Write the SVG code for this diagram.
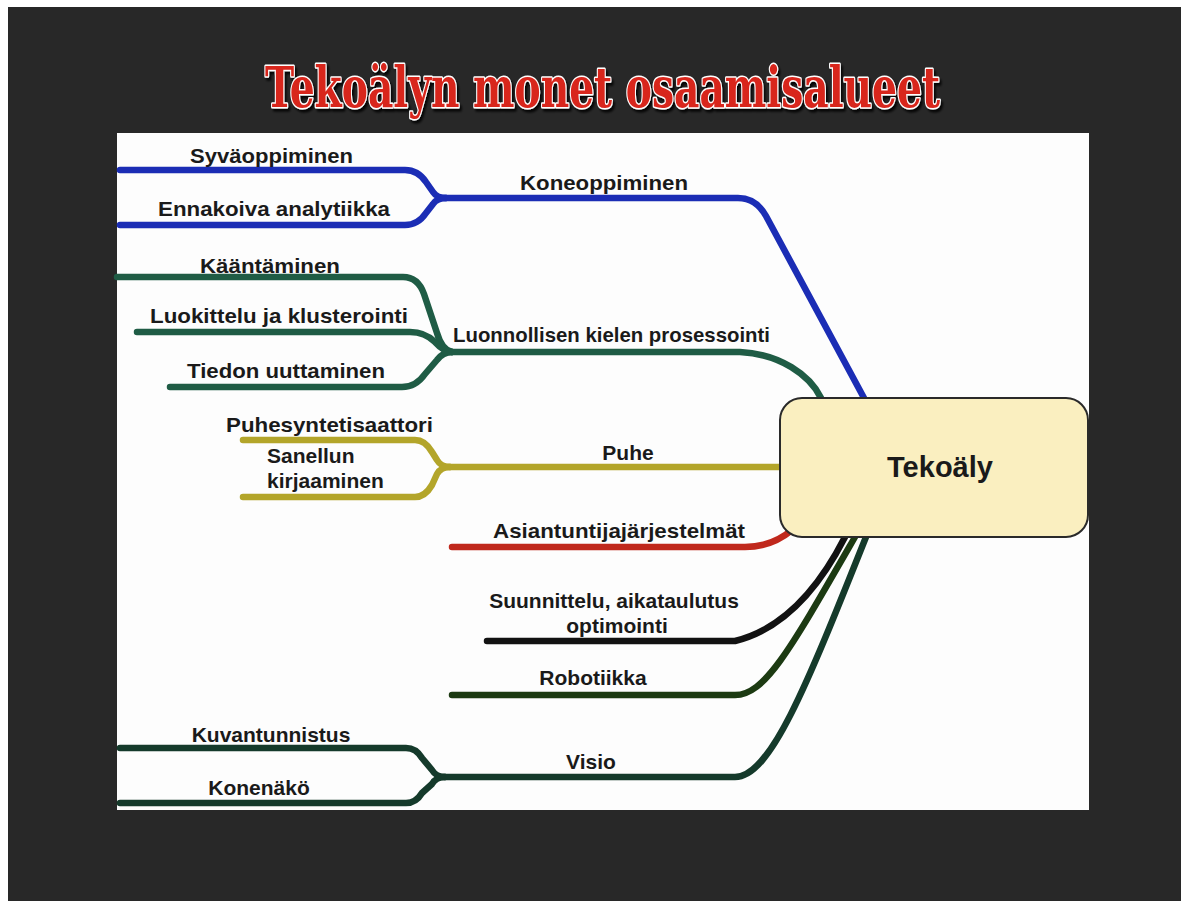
<svg xmlns="http://www.w3.org/2000/svg" width="1186" height="901" viewBox="0 0 1186 901">
<style>
.ln{fill:none;stroke-width:6.5;stroke-linecap:round;stroke-linejoin:round}
.blue{stroke:#1b2db5}
.nlp{stroke:#1f5c45}
.yel{stroke:#b3a52a}
.red{stroke:#c0281c}
.blk{stroke:#121212}
.rob{stroke:#1c3a12}
.vis{stroke:#153a2b}
.lb{font-family:"Liberation Sans",Arial,sans-serif;font-weight:bold;font-size:21px;fill:#1a1a1a}
.ttl{font-family:"DejaVu Serif","Liberation Serif",serif;font-weight:bold;font-size:56px}
</style>
<defs>
<filter id="sh" filterUnits="userSpaceOnUse" x="240" y="40" width="720" height="95">
<feDropShadow dx="2" dy="3" stdDeviation="1.2" flood-color="#000000" flood-opacity="0.85"/>
</filter>
</defs>
<rect width="1186" height="901" fill="#ffffff"/>
<rect x="8" y="7" width="1173" height="894" fill="#282828"/>
<rect x="117" y="133" width="972" height="677" fill="#fdfdfd"/>
<g id="title" filter="url(#sh)">
<text class="ttl" x="265" y="107" textLength="675" lengthAdjust="spacingAndGlyphs" fill="#d8261d" stroke="#ffffff" stroke-width="3" paint-order="stroke" stroke-linejoin="round">Tekoälyn monet osaamisalueet</text>
</g>
<g id="connectors">
<path class="ln blue" d="M120 170 H405 Q418 170 426 182 L433 192 Q437 198 446 198"/>
<path class="ln blue" d="M120 225 H405 Q418 225 426 213 L433 204 Q437 198 446 198"/>
<path class="ln blue" d="M440 198 H738 Q756 198 766 216 L864 398"/>
<path class="ln nlp" d="M117 277 H403 Q418 277 424 294 L437 333 Q442 350 452 352"/>
<path class="ln nlp" d="M137 332 H410 Q425 332 435 342 Q443 351 452 352"/>
<path class="ln nlp" d="M170 387 H402 Q416 387 425 374 L437 360 Q443 352 452 352"/>
<path class="ln nlp" d="M445 352 H740 C780 354 810 375 821 398"/>
<path class="ln yel" d="M243 440 H415 Q425 440 432 452 L437 460 Q441 467 450 467"/>
<path class="ln yel" d="M243 497 H415 Q425 497 432 485 L437 474 Q441 467 450 467"/>
<path class="ln yel" d="M445 467 H782"/>
<path class="ln red" d="M452 547 H745 C765 547 780 540 792 530"/>
<path class="ln blk" d="M487 641 H735 Q800 625 845 537"/>
<path class="ln rob" d="M452 695 H735 C765 695 790 650 855 537"/>
<path class="ln vis" d="M120 748 H406 Q416 748 422 758 L432 770 Q436 777 445 777"/>
<path class="ln vis" d="M120 803 H406 Q416 803 422 793 L432 784 Q436 777 445 777"/>
<path class="ln vis" d="M439 777 H735 C770 777 805 690 866 537"/>
</g>
<g id="tekoaly">
<rect x="780" y="398" width="308" height="139" rx="22" fill="#faefc0" stroke="#2a2a2a" stroke-width="2"/>
<text class="lb" x="940" y="477" text-anchor="middle" style="font-size:29px">Tekoäly</text>
</g>
<g id="koneoppiminen"><text class="lb" x="520" y="190" textLength="168" lengthAdjust="spacingAndGlyphs">Koneoppiminen</text></g>
<g id="syvaoppiminen"><text class="lb" x="190" y="163" textLength="163" lengthAdjust="spacingAndGlyphs">Syväoppiminen</text></g>
<g id="ennakoiva"><text class="lb" x="158" y="216" textLength="232" lengthAdjust="spacingAndGlyphs">Ennakoiva analytiikka</text></g>
<g id="nlp"><text class="lb" x="453" y="342" textLength="317" lengthAdjust="spacingAndGlyphs">Luonnollisen kielen prosessointi</text></g>
<g id="kaantaminen"><text class="lb" x="200" y="273" textLength="140" lengthAdjust="spacingAndGlyphs">Kääntäminen</text></g>
<g id="luokittelu"><text class="lb" x="150" y="323" textLength="258" lengthAdjust="spacingAndGlyphs">Luokittelu ja klusterointi</text></g>
<g id="tiedon"><text class="lb" x="187" y="378" textLength="198" lengthAdjust="spacingAndGlyphs">Tiedon uuttaminen</text></g>
<g id="puhe"><text class="lb" x="628" y="460" text-anchor="middle">Puhe</text></g>
<g id="puhesyntetisaattori"><text class="lb" x="226" y="432" textLength="207" lengthAdjust="spacingAndGlyphs">Puhesyntetisaattori</text></g>
<g id="sanellun"><text class="lb" x="267" y="463">Sanellun</text><text class="lb" x="267" y="488">kirjaaminen</text></g>
<g id="asiantuntija"><text class="lb" x="493" y="538" textLength="252" lengthAdjust="spacingAndGlyphs">Asiantuntijajärjestelmät</text></g>
<g id="suunnittelu"><text class="lb" x="614" y="608" text-anchor="middle">Suunnittelu, aikataulutus</text><text class="lb" x="617" y="633" text-anchor="middle">optimointi</text></g>
<g id="robotiikka"><text class="lb" x="593" y="685" text-anchor="middle">Robotiikka</text></g>
<g id="visio"><text class="lb" x="591" y="769" text-anchor="middle">Visio</text></g>
<g id="kuvantunnistus"><text class="lb" x="271" y="742" text-anchor="middle">Kuvantunnistus</text></g>
<g id="konenako"><text class="lb" x="259" y="795" text-anchor="middle">Konenäkö</text></g>
</svg>
